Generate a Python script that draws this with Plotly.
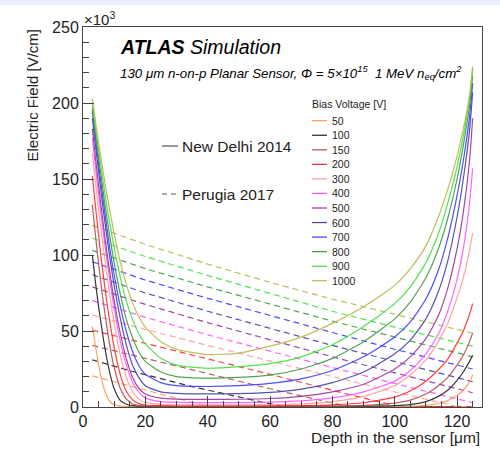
import plotly.graph_objects as go

# ---------------- data (field in units of 10^3 V/cm) ----------------
depth = [3, 4, 5, 6, 7, 8, 9, 10, 12, 14, 16, 18, 20, 25, 30, 40,
         50, 60, 70, 80, 90, 100, 105, 110, 114, 117, 120, 122, 124, 125]

voltages = ["50", "100", "150", "200", "300", "400", "500", "600", "700", "800", "900", "1000"]
colors = ["#ff9a55", "#222222", "#b24f4f", "#ff2a2a", "#ff9a9a", "#ff55ff",
          "#993399", "#4242a8", "#3b3bff", "#3f9a3f", "#3ee03e", "#bdb44a"]

# New Delhi 2014 (solid)
nd_50 = [53, 40, 28, 18, 10.5, 5.5, 2.8, 1.5, 0.6, 0.4, 0.35, 0.3, 0.3, 0.3, 0.3, 0.3,
         0.3, 0.3, 0.3, 0.3, 0.3, 0.3, 0.5, 1.1, 2.3, 4.2, 7.5, 11, 16.5, 21]
nd_100 = [100, 82, 66, 52, 39, 28, 19, 12, 4.2, 1.8, 0.9, 0.6, 0.5, 0.5, 0.5, 0.5,
          0.5, 0.5, 0.5, 0.5, 0.55, 0.9, 1.6, 3.5, 7, 11, 17.5, 23, 30, 34]
nd_150 = [133, 113, 94, 77, 62, 48, 36, 26, 12, 5, 2, 1, 0.6, 0.5, 0.5, 0.5,
          0.5, 0.5, 0.5, 0.6, 1.1, 2.6, 4.5, 8.5, 14, 19.5, 27.5, 34, 43, 48.7]
nd_200 = [152, 132, 113, 95, 79, 64, 51, 39, 21, 10, 4.5, 2.2, 1.3, 0.9, 0.8, 0.8,
          0.8, 0.8, 0.9, 1.4, 2.8, 6.5, 10.5, 17, 24.5, 31.5, 42, 50, 61, 68]
nd_300 = [167, 148, 130, 113, 97, 82, 68, 55, 34, 19, 10, 5, 3, 1.7, 1.4, 1.4,
          1.4, 1.5, 2, 3.5, 7, 14, 21, 31, 43, 55, 72, 85, 103, 114.5]
nd_400 = [177, 158, 140, 123, 107, 92, 78, 65, 43, 27, 16, 9.5, 6, 3.5, 3, 2.9,
          2.9, 3.2, 4, 6, 10, 17, 24, 35, 48, 63, 84, 104, 134, 157]
nd_500 = [183, 164, 146, 129, 112, 97, 83, 70, 48, 31, 19, 12, 8.5, 5.8, 5.2, 5,
          5.1, 5.6, 7, 10, 15, 25, 33, 45, 60, 78, 104, 128, 162, 190]
nd_600 = [190, 172, 155, 138, 122, 107, 93, 80, 58, 40, 27, 19, 14, 10, 9, 8.6,
          8.8, 9.6, 11.8, 16, 23, 35, 44, 58, 76, 96, 125, 150, 182, 207]
nd_700 = [195, 177, 160, 144, 128, 113, 99, 87, 66, 49, 36, 27, 21.5, 16, 14, 13.5,
          14, 15.5, 18.5, 24, 33, 46, 56, 71, 90, 111, 139, 162, 191, 213]
nd_800 = [197, 180, 164, 149, 134, 120, 107, 95, 74, 57, 45, 36, 30, 23, 20, 19,
          19.5, 21, 25, 32, 43, 58, 69, 85, 104, 124, 150, 172, 198, 218]
nd_900 = [200, 184, 169, 155, 141, 128, 116, 105, 85, 69, 57, 48, 41.5, 32, 27.5, 25.5,
          26.5, 28.5, 33, 41, 53, 68, 79, 95, 114, 134, 158, 178, 203, 222]
nd_1000 = [203, 188, 174, 161, 148, 136, 125, 114, 95, 80, 68, 59, 52.5, 43, 38, 34.5,
           35.5, 40, 46, 55, 66, 80, 91, 106, 125, 143, 165, 183, 205, 224]

# Perugia 2017 (dashed)
pg_50_x = [3, 26.4, 40, 125]
pg_50_y = [20.5, 7.9, 0.3, 0.3]
pg_100_x = [3, 15.7, 35, 64, 125]
pg_100_y = [31, 23.5, 13.4, 0.3, 0.3]
pg_150_x = [3, 20, 40, 60, 85, 125]
pg_150_y = [40.5, 32, 22, 12, 0.3, 0.3]
pg_200_x = [3, 20, 40, 60, 80, 101, 125]
pg_200_y = [50.5, 42, 31.5, 21.5, 11, 0.3, 0.3]
pg_300_x = [3, 20, 40, 60, 80, 100, 120, 125]
pg_300_y = [60.5, 51, 40.5, 30, 20, 10, 0.3, 0.3]
pg_x = [3, 20, 40, 60, 80, 100, 125]
pg_400 = [70, 59, 47.5, 36.5, 26, 15.5, 2.8]
pg_500 = [79, 67.5, 55.5, 44, 33, 22.5, 9.4]
pg_600 = [87, 75, 63, 51.5, 40.5, 30, 16.6]
pg_700 = [95.5, 83.5, 71.5, 60, 49, 38, 25]
pg_800 = [103, 91, 79, 67.5, 56.5, 46, 33]
pg_900 = [111, 99, 86.5, 74.5, 63, 52.5, 40]
pg_1000 = [119.5, 107, 94, 82, 71, 61, 48.5]

nd_all = [nd_50, nd_100, nd_150, nd_200, nd_300, nd_400, nd_500, nd_600,
          nd_700, nd_800, nd_900, nd_1000]
pg_all = [(pg_50_x, pg_50_y), (pg_100_x, pg_100_y), (pg_150_x, pg_150_y),
          (pg_200_x, pg_200_y), (pg_300_x, pg_300_y), (pg_x, pg_400), (pg_x, pg_500),
          (pg_x, pg_600), (pg_x, pg_700), (pg_x, pg_800), (pg_x, pg_900), (pg_x, pg_1000)]

# ---------------- figure ----------------
W, H = 500, 469
L, R, T, B = 83, 482, 27, 407   # plot frame in pixels
FONT = "Liberation Sans, Arial, Helvetica, sans-serif"


def px(x):
    return (x - L) / (R - L)


def py(y):
    return (B - y) / (B - T)


fig = go.Figure()

for v, c, (xs, ys) in zip(voltages, colors, pg_all):
    fig.add_trace(go.Scatter(x=xs, y=ys, mode="lines", name=v + " V Perugia",
                             line=dict(color=c, width=1.2, dash="6px,4px"),
                             opacity=0.9, showlegend=False, hoverinfo="skip"))

for v, c, ys in zip(voltages, colors, nd_all):
    fig.add_trace(go.Scatter(x=depth, y=ys, mode="lines", name=v + " V New Delhi",
                             line=dict(color=c, width=1.2, shape="spline", smoothing=0.6),
                             opacity=0.9, showlegend=False, hoverinfo="skip"))

shapes = []
annotations = []

# light band at top of the page
shapes.append(dict(type="rect", xref="paper", yref="paper", x0=px(0), x1=px(W),
                   y0=py(5), y1=py(0), fillcolor="#eceefb", line=dict(width=0), layer="below"))

# model legend
shapes.append(dict(type="line", xref="paper", yref="paper", x0=px(162), x1=px(178),
                   y0=py(146), y1=py(146), line=dict(color="#555555", width=1.2)))
shapes.append(dict(type="line", xref="paper", yref="paper", x0=px(162), x1=px(178),
                   y0=py(194), y1=py(194), line=dict(color="#555555", width=1.2, dash="5px,4px")))
annotations.append(dict(text="New Delhi 2014", x=px(180), y=py(146), xref="paper", yref="paper",
                        xanchor="left", yanchor="middle", showarrow=False,
                        font=dict(family=FONT, size=15.5, color="#222222")))
annotations.append(dict(text="Perugia 2017", x=px(180), y=py(194), xref="paper", yref="paper",
                        xanchor="left", yanchor="middle", showarrow=False,
                        font=dict(family=FONT, size=15.5, color="#222222")))

# bias voltage legend
annotations.append(dict(text="Bias Voltage [V]", x=px(310), y=py(104), xref="paper", yref="paper",
                        xanchor="left", yanchor="middle", showarrow=False,
                        font=dict(family=FONT, size=10.5, color="#222222")))
for i, (v, c) in enumerate(zip(voltages, colors)):
    yy = 120.7 + i * 14.55
    shapes.append(dict(type="line", xref="paper", yref="paper", x0=px(312), x1=px(327),
                       y0=py(yy), y1=py(yy), line=dict(color=c, width=1.2)))
    annotations.append(dict(text=v, x=px(330), y=py(yy), xref="paper", yref="paper",
                            xanchor="left", yanchor="middle", showarrow=False,
                            font=dict(family=FONT, size=10.5, color="#222222")))

# ATLAS label
annotations.append(dict(text="<b><i>ATLAS</i></b> <i>Simulation</i>", x=px(118), y=py(47),
                        xref="paper", yref="paper", xanchor="left", yanchor="middle",
                        showarrow=False, font=dict(family=FONT, size=19.5, color="#000000")))
annotations.append(dict(text="<i>130 \u03bcm n-on-p Planar Sensor, \u03a6 = 5\u00d710<sup>15</sup>"
                             "  1 MeV n<sub>eq</sub>/cm<sup>2</sup></i>",
                        x=px(118), y=py(73), xref="paper", yref="paper", xanchor="left",
                        yanchor="middle", showarrow=False,
                        font=dict(family=FONT, size=13.3, color="#000000")))

# x10^3 multiplier
annotations.append(dict(text="\u00d710<sup>3</sup>", x=px(82), y=py(19), xref="paper", yref="paper",
                        xanchor="left", yanchor="middle", showarrow=False,
                        font=dict(family=FONT, size=15, color="#222222")))

# axis titles
annotations.append(dict(text="Depth in the sensor [\u03bcm]", x=px(482), y=py(437),
                        xref="paper", yref="paper", xanchor="right", yanchor="middle",
                        showarrow=False, font=dict(family=FONT, size=15.5, color="#222222")))
annotations.append(dict(text="Electric Field [V/cm]", x=px(32), y=py(27), xref="paper",
                        yref="paper", xanchor="center", yanchor="top", textangle=-90,
                        showarrow=False, font=dict(family=FONT, size=15, color="#222222")))

fig.update_layout(
    width=W, height=H,
    margin=dict(l=L, r=W - R, t=T, b=H - B, pad=0),
    paper_bgcolor="white", plot_bgcolor="white",
    showlegend=False,
    shapes=shapes, annotations=annotations,
    font=dict(family=FONT, color="#222222"),
)
fig.update_xaxes(range=[0, 128], showgrid=False, zeroline=False,
                 showline=True, linecolor="#444444", linewidth=1, mirror=True,
                 ticks="inside", ticklen=11, tickcolor="#444444", dtick=20, tick0=0,
                 tickfont=dict(family=FONT, size=16, color="#222222"),
                 minor=dict(ticks="inside", ticklen=6, dtick=5, tickcolor="#444444", showgrid=False))
fig.update_yaxes(range=[0, 250], showgrid=False, zeroline=False,
                 showline=True, linecolor="#444444", linewidth=1, mirror=True,
                 ticks="inside", ticklen=11, tickcolor="#444444", dtick=50, tick0=0,
                 tickfont=dict(family=FONT, size=16, color="#222222"),
                 minor=dict(ticks="inside", ticklen=6, dtick=10, tickcolor="#444444", showgrid=False))

fig.write_html("out.html")
